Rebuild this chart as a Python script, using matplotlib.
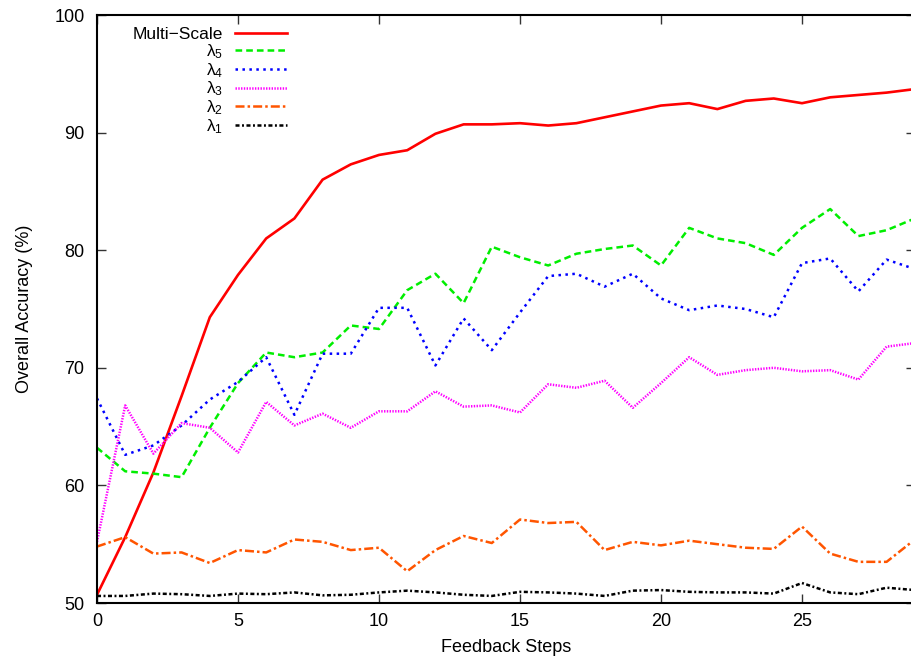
import matplotlib
matplotlib.use("Agg")
import matplotlib.pyplot as plt

plt.rcParams['font.family'] = ['Liberation Sans', 'DejaVu Sans']
plt.rcParams['mathtext.fontset'] = 'custom'
plt.rcParams['mathtext.rm'] = 'Liberation Sans'
plt.rcParams['mathtext.it'] = 'Liberation Sans'
plt.rcParams['lines.scale_dashes'] = False

# accuracy per feedback step
steps = list(range(30))
multi_scale = [50.7, 55.6, 61.1, 67.6, 74.3, 77.9, 81.0, 82.7, 86.0, 87.3,
               88.1, 88.5, 89.9, 90.7, 90.7, 90.8, 90.6, 90.8, 91.3, 91.8,
               92.3, 92.5, 92.0, 92.7, 92.9, 92.5, 93.0, 93.2, 93.4, 93.7]
lambda5 = [63.2, 61.2, 61.0, 60.7, 64.9, 68.7, 71.3, 70.9, 71.3, 73.6,
           73.3, 76.6, 78.0, 75.5, 80.3, 79.4, 78.7, 79.7, 80.1, 80.4,
           78.7, 81.9, 81.0, 80.6, 79.6, 81.9, 83.5, 81.2, 81.7, 82.7]
lambda4 = [67.4, 62.6, 63.4, 65.1, 67.3, 68.8, 70.9, 66.0, 71.2, 71.2,
           75.1, 75.1, 70.2, 74.2, 71.5, 74.7, 77.8, 78.0, 76.9, 78.0,
           75.9, 74.9, 75.3, 75.0, 74.3, 78.9, 79.3, 76.5, 79.2, 78.4]
lambda3 = [55.2, 66.8, 62.7, 65.3, 64.9, 62.8, 67.1, 65.1, 66.1, 64.9,
           66.3, 66.3, 68.0, 66.7, 66.8, 66.2, 68.6, 68.3, 68.9, 66.6,
           68.7, 70.9, 69.4, 69.8, 70.0, 69.7, 69.8, 69.0, 71.8, 72.1]
lambda2 = [54.8, 55.6, 54.2, 54.3, 53.4, 54.5, 54.3, 55.4, 55.2, 54.5,
           54.7, 52.7, 54.5, 55.7, 55.1, 57.1, 56.8, 56.9, 54.5, 55.2,
           54.9, 55.3, 55.0, 54.7, 54.6, 56.5, 54.2, 53.5, 53.5, 55.4]
lambda1 = [50.6, 50.6, 50.8, 50.75, 50.6, 50.8, 50.75, 50.9, 50.65, 50.7,
           50.9, 51.05, 50.9, 50.7, 50.6, 50.95, 50.9, 50.8, 50.6, 51.05,
           51.1, 50.95, 50.9, 50.9, 50.8, 51.7, 50.9, 50.75, 51.3, 51.1]

labels = ['Multi\u2212Scale', 'λ$_5$', 'λ$_4$', 'λ$_3$', 'λ$_2$', 'λ$_1$']

fig = plt.figure(figsize=(9.12, 6.64), dpi=100)
ax = fig.add_axes([97 / 912, 61 / 664, 817.8 / 912, 588 / 664])

ax.plot(steps, multi_scale, color='#ff0000', lw=1.9, ls='-', label=labels[0])
ax.plot(steps, lambda5, color='#00ee00', lw=1.8, ls=(0, (4.8, 2.9)), label=labels[1])
ax.plot(steps, lambda4, color='#0000ff', lw=1.8, ls=(0, (1.8, 3.2)), label=labels[2])
ax.plot(steps, lambda3, color='#ff00ff', lw=1.8, ls=(0, (1.0, 1.0)), label=labels[3])
ax.plot(steps, lambda2, color='#ff5500', lw=1.8, ls=(0, (6.5, 2.2, 1.8, 2.2)), label=labels[4])
ax.plot(steps, lambda1, color='#000000', lw=1.8, ls=(0, (2.9, 1.8, 1.4, 1.8)), label=labels[5])

ax.set_xlim(0, 29)
ax.set_ylim(50, 100)
ax.set_xticks([0, 5, 10, 15, 20, 25])
ax.set_yticks([50, 60, 70, 80, 90, 100])
ax.tick_params(direction='in', length=6.5, width=1.0, top=True, right=True,
               labelsize=13, color='#333333')
ax.tick_params(axis='x', pad=7)
ax.tick_params(axis='y', pad=9)
for s in ax.spines.values():
    s.set_linewidth(1.5)

ax.set_xlabel('Feedback Steps', fontsize=13, labelpad=7)
ax.set_ylabel('Overall Accuracy (%)', fontsize=13, labelpad=15)

leg = ax.legend(loc='upper right', bbox_to_anchor=(296 / 912, 1 - 18.5 / 664),
                bbox_transform=fig.transFigure, frameon=False, fontsize=12.5,
                markerfirst=False, alignment='right', borderpad=0,
                handlelength=3.0, handletextpad=0.7, labelspacing=0.0)

fig.savefig('out.png', dpi=100)
